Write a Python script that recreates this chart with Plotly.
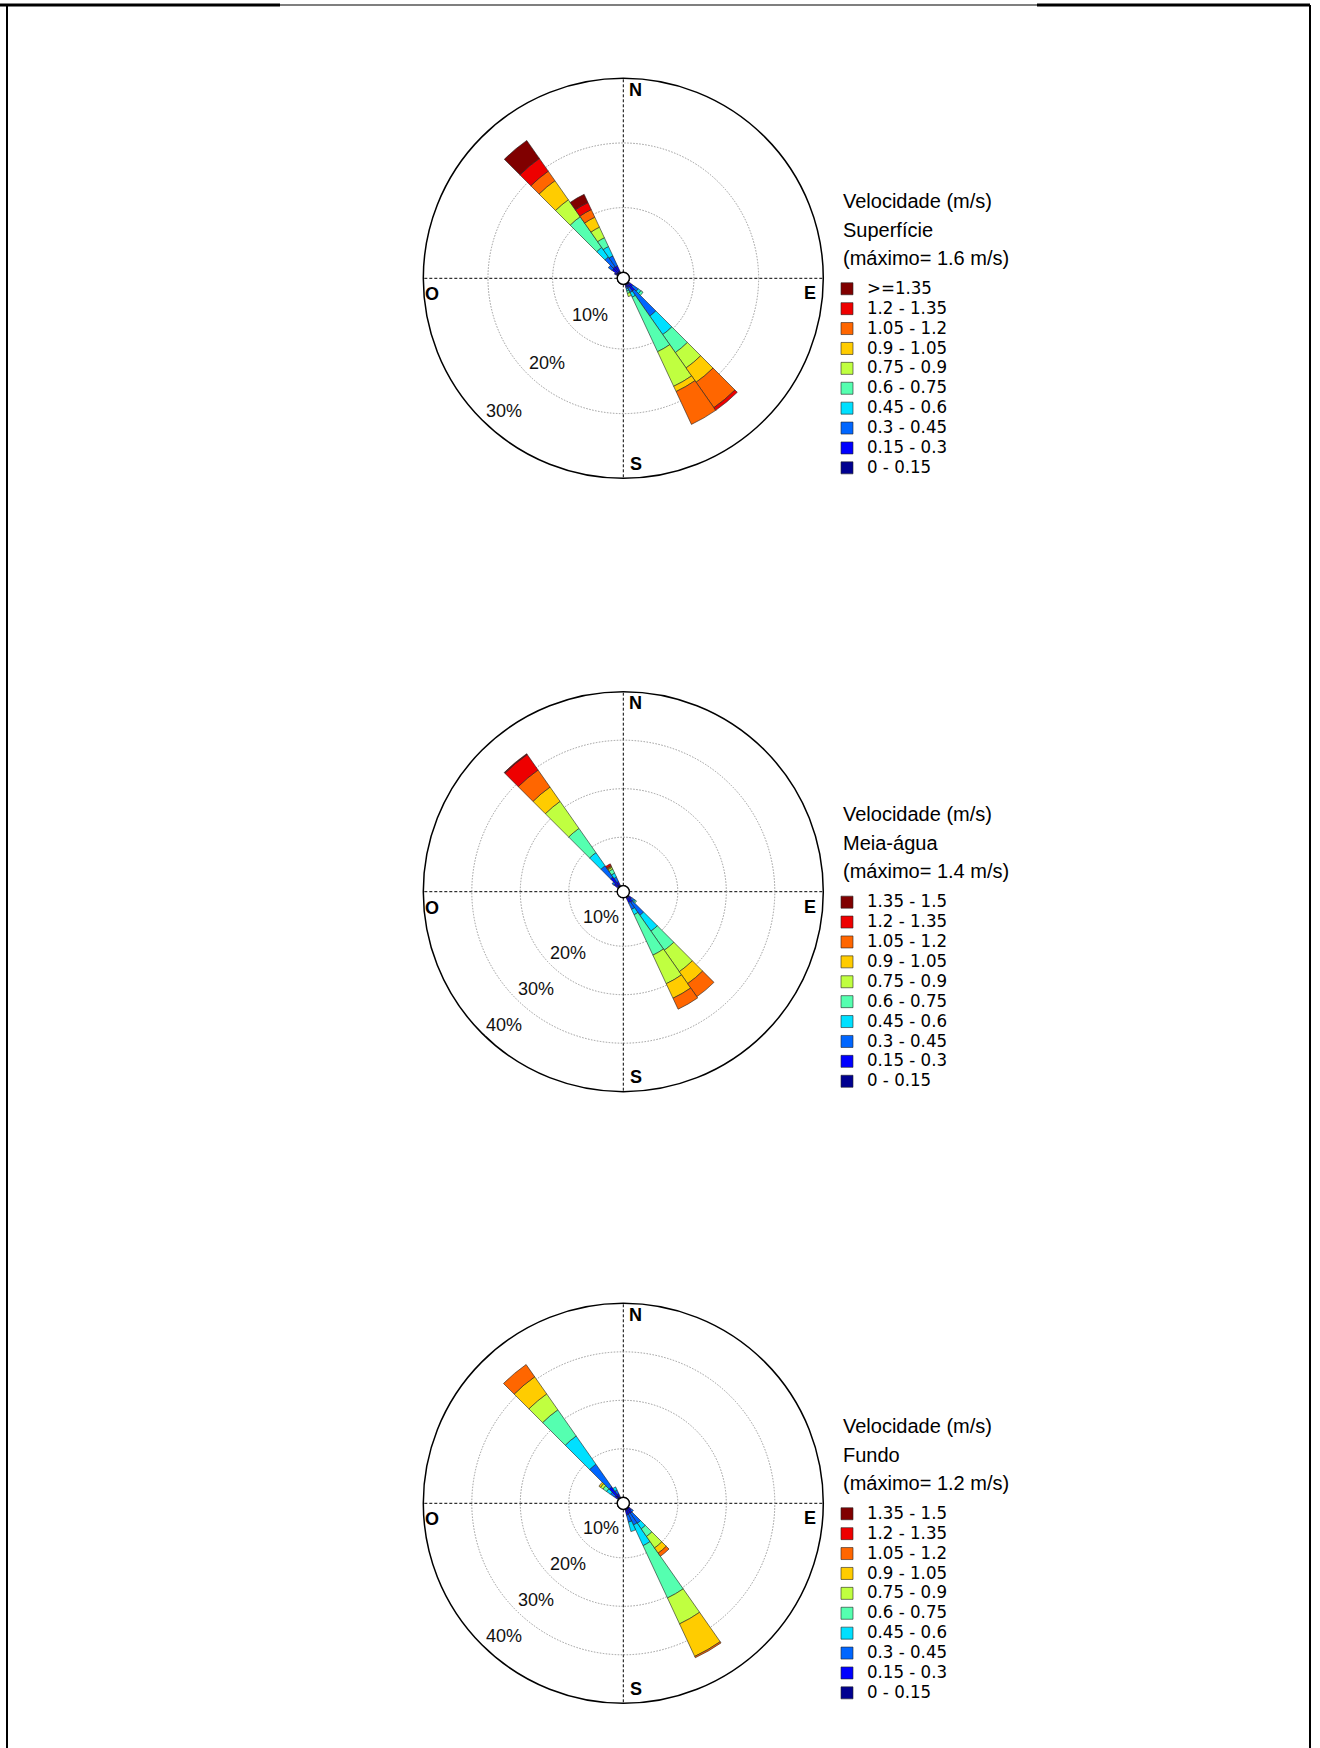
import math
import plotly.graph_objects as go

W, H = 1320, 1748

# ---------------- data ----------------
DIRECTIONS = [130, 140, 150, 160, 300, 310, 320, 330]   # bearing of each 10° sector

SPEED_COLORS = ["#000090", "#0000FF", "#0066FF", "#00E0FF", "#55FFB0",
                "#C0FF40", "#FFCC00", "#FF6600", "#EE0000", "#800000"]

LABELS_SUP = ["0 - 0.15", "0.15 - 0.3", "0.3 - 0.45", "0.45 - 0.6", "0.6 - 0.75",
              "0.75 - 0.9", "0.9 - 1.05", "1.05 - 1.2", "1.2 - 1.35", ">=1.35"]
LABELS_MEIA = ["0 - 0.15", "0.15 - 0.3", "0.3 - 0.45", "0.45 - 0.6", "0.6 - 0.75",
               "0.75 - 0.9", "0.9 - 1.05", "1.05 - 1.2", "1.2 - 1.35", "1.35 - 1.5"]
LABELS_FUNDO = LABELS_MEIA

# frequency (%) per speed class (rows, low -> high) and direction (columns = DIRECTIONS)
SUP_FREQ = [
    [0.3, 0.3, 0.2, 0.2, 0.3, 0.4, 0.3, 0.3],
    [0.6, 1.2, 0.5, 0.3, 0.3, 0.8, 1.0, 0.9],
    [1.0, 4.7, 0.8, 0.3, 0.0, 0.7, 1.8, 1.7],
    [0.5, 3.5, 0.8, 0.3, 0.0, 0.0, 1.8, 1.6],
    [0.4, 3.4, 9.3, 0.4, 0.0, 0.0, 5.8, 1.5],
    [0.0, 2.9, 5.9, 0.5, 0.0, 0.0, 3.2, 1.8],
    [0.0, 2.7, 0.9, 0.0, 0.0, 0.0, 3.6, 1.7],
    [0.0, 4.8, 5.6, 0.0, 0.0, 0.0, 1.8, 1.3],
    [0.0, 0.5, 0.0, 0.0, 0.0, 0.0, 2.4, 1.2],
    [0.0, 0.0, 0.0, 0.0, 0.0, 0.0, 3.4, 1.4],
]
MEIA_FREQ = [
    [0.3, 0.3, 0.3, 0.0, 0.0, 0.3, 0.5, 0.3],
    [0.6, 1.2, 1.0, 0.0, 0.0, 0.8, 2.0, 0.8],
    [0.6, 3.2, 1.5, 0.0, 0.0, 0.5, 2.8, 1.0],
    [0.3, 4.0, 1.2, 0.0, 0.0, 0.0, 3.3, 0.9],
    [0.3, 4.8, 9.2, 0.0, 0.0, 0.0, 6.1, 0.9],
    [0.0, 5.4, 6.5, 0.0, 0.0, 0.0, 6.8, 0.4],
    [0.0, 3.0, 3.3, 0.0, 0.0, 0.0, 3.6, 0.2],
    [0.0, 3.3, 2.5, 0.0, 0.0, 0.0, 4.3, 0.2],
    [0.0, 0.0, 0.0, 0.0, 0.0, 0.0, 3.9, 0.4],
    [0.0, 0.0, 0.0, 0.0, 0.0, 0.0, 0.2, 0.0],
]
FUNDO_FREQ = [
    [0.3, 0.3, 0.3, 0.3, 0.0, 0.3, 0.8, 0.3],
    [0.5, 1.0, 0.9, 1.0, 0.0, 0.7, 2.1, 0.7],
    [0.5, 2.5, 2.5, 1.5, 0.0, 1.0, 5.7, 0.8],
    [0.0, 1.4, 4.7, 2.0, 0.0, 1.0, 7.1, 0.7],
    [0.0, 1.9, 11.9, 0.0, 0.0, 0.9, 6.6, 0.0],
    [0.0, 2.9, 5.9, 0.0, 0.0, 0.6, 4.0, 0.0],
    [0.0, 1.3, 7.4, 0.0, 0.0, 0.4, 4.3, 0.0],
    [0.0, 0.8, 0.3, 0.0, 0.0, 0.0, 3.1, 0.0],
    [0.0, 0.0, 0.0, 0.0, 0.0, 0.0, 0.0, 0.0],
    [0.0, 0.0, 0.0, 0.0, 0.0, 0.0, 0.0, 0.0],
]

TITLES = ["Superfície", "Meia-água", "Fundo"]
MAXIMOS = ["1.6", "1.4", "1.2"]
RMAX = [30, 40, 40]
RING_TICKS = [[10, 20, 30], [10, 20, 30, 40], [10, 20, 30, 40]]
CARDINALS = ["N", "E", "S", "O"]

# ---------------- layout geometry (pixels) ----------------
CX = 623.3
CYS = [278.3, 891.7, 1503.3]
R = 200.0
HOLE = 0.03
HOLE_PX = R * HOLE
FONT = "Liberation Sans, Arial, sans-serif"
NARROW = "'Liberation Sans Narrow', 'Arial Narrow', 'DejaVu Sans Condensed', sans-serif"


def px(x):
    return x / W


def py(y):
    return 1 - y / H


fig = go.Figure()
rose_data = [(SUP_FREQ, LABELS_SUP), (MEIA_FREQ, LABELS_MEIA), (FUNDO_FREQ, LABELS_FUNDO)]

annotations = []
shapes = []
layout_extra = {}

for k, (freq, labels) in enumerate(rose_data):
    pname = "polar" if k == 0 else f"polar{k+1}"
    lname = "legend" if k == 0 else f"legend{k+1}"
    for i, row in enumerate(freq):
        fig.add_trace(go.Barpolar(
            r=row, theta=DIRECTIONS, width=[10] * len(DIRECTIONS),
            name=f"<span style=\"font-size:18.5px;font-family:{NARROW}\">{labels[i]}</span>",
            marker=dict(color=SPEED_COLORS[i], line=dict(color="#222222", width=0.6)),
            subplot=pname, legend=lname, showlegend=True,
            hovertemplate=labels[i] + ": %{r}%<extra></extra>",
        ))

    cy = CYS[k]
    rmax = RMAX[k]
    layout_extra[pname] = dict(
        domain=dict(x=[px(CX - R), px(CX + R)], y=[py(cy + R), py(cy - R)]),
        bgcolor="white",
        hole=HOLE,
        barmode="stack",
        radialaxis=dict(range=[0, rmax], tickvals=[t for t in RING_TICKS[k] if t < rmax],
                        showticklabels=False, ticks="", showline=False,
                        gridcolor="#9a9a9a", griddash="1.5px,1.5px", gridwidth=1),
        angularaxis=dict(direction="clockwise", rotation=90,
                         tickvals=[0, 90, 180, 270], showticklabels=False, ticks="",
                         showline=True, linecolor="black", linewidth=1.5,
                         gridcolor="black", griddash="3px,2px", gridwidth=1),
    )

    layout_extra[lname] = dict(
        x=px(827), xanchor="left", y=py(cy - 4.5), yanchor="top",
        bgcolor="rgba(0,0,0,0)", borderwidth=0, traceorder="reversed",
        font=dict(size=13, family=FONT, color="black"),
        itemclick=False, itemdoubleclick=False, tracegroupgap=0,
    )

    # legend heading lines
    for txt, dy in zip(["Velocidade (m/s)", TITLES[k], f"(máximo= {MAXIMOS[k]} m/s)"],
                       [-77.6, -48.6, -20.7]):
        annotations.append(dict(
            x=px(841), y=py(cy + dy), xref="paper", yref="paper", text=txt,
            showarrow=False, xanchor="left", yanchor="middle",
            font=dict(size=20, family=FONT, color="black")))

    # radial percentage labels along the SW direction
    for t in RING_TICKS[k]:
        rr = HOLE_PX + (R - HOLE_PX) * t / rmax - 21
        ang = math.radians(222)
        annotations.append(dict(
            x=px(CX + rr * math.sin(ang)), y=py(cy - rr * math.cos(ang)),
            xref="paper", yref="paper", text=f"{t}%", showarrow=False,
            font=dict(size=18, family=FONT, color="#111111"),
            bgcolor="white", borderpad=0, xanchor="center", yanchor="middle"))

    # cardinal letters inside the rim
    offs = {"N": (12.5, -188.5), "E": (187, 15), "S": (12.5, 185.5), "O": (-191.6, 16)}
    for c in CARDINALS:
        dx, dy = offs[c]
        annotations.append(dict(
            x=px(CX + dx), y=py(cy + dy), xref="paper", yref="paper", text=f"<b>{c}</b>",
            showarrow=False, xanchor="center", yanchor="middle",
            font=dict(size=18, family=FONT, color="black")))

    # white centre disc
    shapes.append(dict(type="circle", xref="paper", yref="paper",
                       x0=px(CX - HOLE_PX), x1=px(CX + HOLE_PX),
                       y0=py(cy + HOLE_PX), y1=py(cy - HOLE_PX),
                       fillcolor="white", line=dict(color="black", width=1.2)))

# page frame
frame = [
    (7, 5, 7, H, 2), (1310, 5, 1310, H, 2), (7, 5, 1310, 5, 1.2),
    (0, 5, 280, 5, 3), (1037, 5, 1310, 5, 3),
]
for x0, y0, x1, y1, w in frame:
    shapes.append(dict(type="line", xref="paper", yref="paper",
                       x0=px(x0), y0=py(y0), x1=px(x1), y1=py(y1),
                       line=dict(color="black", width=w)))

fig.update_layout(
    width=W, height=H, margin=dict(l=0, r=0, t=0, b=0),
    paper_bgcolor="white", plot_bgcolor="white",
    annotations=annotations, shapes=shapes,
    **layout_extra,
)

fig.write_html("out.html")
